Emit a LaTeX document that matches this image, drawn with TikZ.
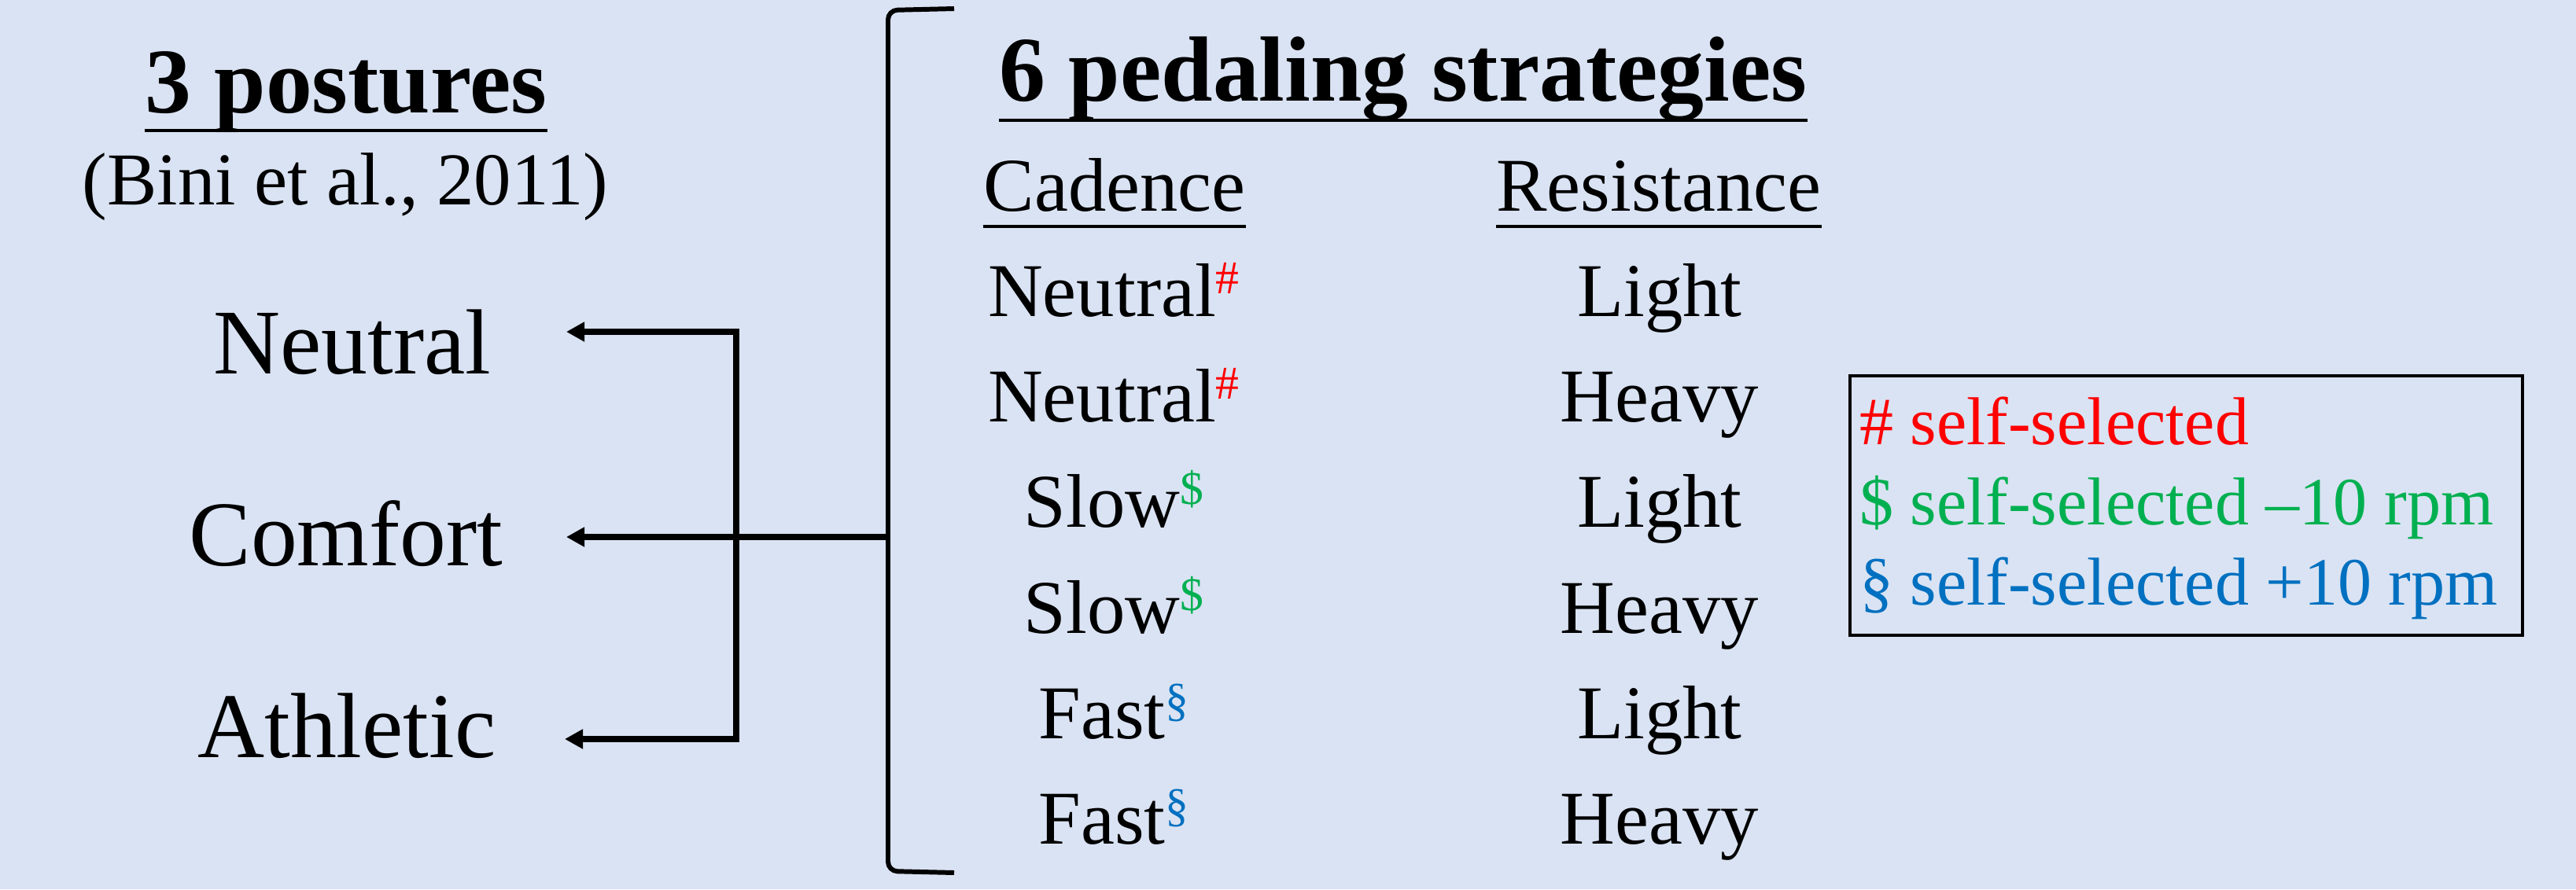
\documentclass[tikz,border=0pt]{standalone}
\usepackage{fontspec}
\setmainfont{Liberation Serif}
\usepackage{tikz}
\usepackage{xcolor}
\usetikzlibrary{arrows.meta}
\definecolor{slideblue}{HTML}{DAE3F3}
\definecolor{selfred}{HTML}{FF0000}
\definecolor{selfgreen}{HTML}{00B050}
\definecolor{selfblue}{HTML}{0070C0}
\newcommand{\cadmark}[2]{\raisebox{0.3em}{\fontsize{17}{17}\selectfont\color{#1}#2}}
\tikzset{
    head-text/.style = {inner sep=0pt, anchor=base, font=\fontsize{33.5}{40}\selectfont\bfseries},
    posture-text/.style = {inner sep=0pt, anchor=base, font=\fontsize{33.5}{40}\selectfont},
    strategy-text/.style = {inner sep=0pt, anchor=base, font=\fontsize{27.5}{33}\selectfont},
    legend-text/.style = {inner sep=0pt, anchor=base west, font=\fontsize{24.5}{29}\selectfont},
    legend-frame/.style = {draw=black, line width=1.4pt, rectangle, inner sep=0pt, minimum width=8.55cm, minimum height=3.30cm},
    head-rule/.style = {line width=1.2pt},
    col-rule/.style = {line width=1.1pt},
    post-arrow/.style = {line width=2pt, -{Triangle[length=6.6pt,width=6.8pt]}},
    bracket-line/.style = {line width=1.7pt, rounded corners=0.12cm},
}

\begin{document}
\begin{tikzpicture}
\fill[slideblue] (0,0) rectangle (32.75,-11.31);
\useasboundingbox (0,0) rectangle (32.75,-11.31);

% left side: postures
\node[head-text] (postures) at (4.40,-1.43) {3 postures};
\draw[head-rule] ([yshift=-0.23cm]postures.base west) -- ([yshift=-0.23cm]postures.base east);
\node[strategy-text, font=\fontsize{27}{32}\selectfont] (bini) at (4.39,-2.60) {(Bini et al., 2011)};
\node[posture-text] (neutral) at (4.48,-4.75) {Neutral};
\node[posture-text] (comfort) at (4.40,-7.19) {Comfort};
\node[posture-text] (athletic) at (4.41,-9.63) {Athletic};

\coordinate (tip-n) at (7.20,-4.22);
\coordinate (tip-c) at (7.20,-6.83);
\coordinate (tip-a) at (7.18,-9.40);
\coordinate (fork-n) at (9.36,-4.22);
\coordinate (fork-a) at (9.36,-9.40);
\coordinate (brk) at (11.29,-6.83);

\draw[post-arrow] (fork-a) -- (fork-n) -- (tip-n);
\draw[post-arrow] (fork-n) -- (fork-a) -- (tip-a);
\draw[post-arrow] (brk) -- (tip-c);

% bracket round the strategies
\draw[bracket-line] (12.13,-0.11) -- (11.29,-0.13) -- (11.29,-11.08) -- (12.13,-11.10);

% right side: strategies
\node[head-text] (strategies) at (17.84,-1.28) {6 pedaling strategies};
\draw[head-rule] ([yshift=-0.25cm]strategies.base west) -- ([yshift=-0.25cm]strategies.base east);
\node[strategy-text] (cadence) at (14.17,-2.68) {Cadence};
\draw[col-rule] ([yshift=-0.20cm]cadence.base west) -- ([yshift=-0.20cm]cadence.base east);
\node[strategy-text] (resistance) at (21.09,-2.68) {Resistance};
\draw[col-rule] ([yshift=-0.20cm]resistance.base west) -- ([yshift=-0.20cm]resistance.base east);

\node[strategy-text] (cad-1) at (14.16,-4.02) {Neutral\cadmark{selfred}{\#}};
\node[strategy-text] (cad-2) at (14.16,-5.36) {Neutral\cadmark{selfred}{\#}};
\node[strategy-text] (cad-3) at (14.16,-6.70) {Slow\cadmark{selfgreen}{\$}};
\node[strategy-text] (cad-4) at (14.16,-8.05) {Slow\cadmark{selfgreen}{\$}};
\node[strategy-text] (cad-5) at (14.16,-9.39) {Fast\cadmark{selfblue}{\S}};
\node[strategy-text] (cad-6) at (14.16,-10.73) {Fast\cadmark{selfblue}{\S}};

\node[strategy-text] (res-1) at (21.10,-4.02) {Light};
\node[strategy-text] (res-2) at (21.10,-5.36) {Heavy};
\node[strategy-text] (res-3) at (21.10,-6.70) {Light};
\node[strategy-text] (res-4) at (21.10,-8.05) {Heavy};
\node[strategy-text] (res-5) at (21.10,-9.39) {Light};
\node[strategy-text] (res-6) at (21.10,-10.73) {Heavy};

% legend
\node[legend-frame] (legend) at (27.795,-6.43) {};
\node[legend-text, text=selfred] (key-same) at ([xshift=0.14cm, yshift=-0.90cm]legend.north west) {\# self-selected};
\node[legend-text, text=selfgreen] (key-slow) at ([yshift=-1.02cm]key-same.base west) {\$ self-selected \textendash10 rpm};
\node[legend-text, text=selfblue] (key-fast) at ([yshift=-1.02cm]key-slow.base west) {\S\ self-selected +10 rpm};
\end{tikzpicture}
\end{document}
